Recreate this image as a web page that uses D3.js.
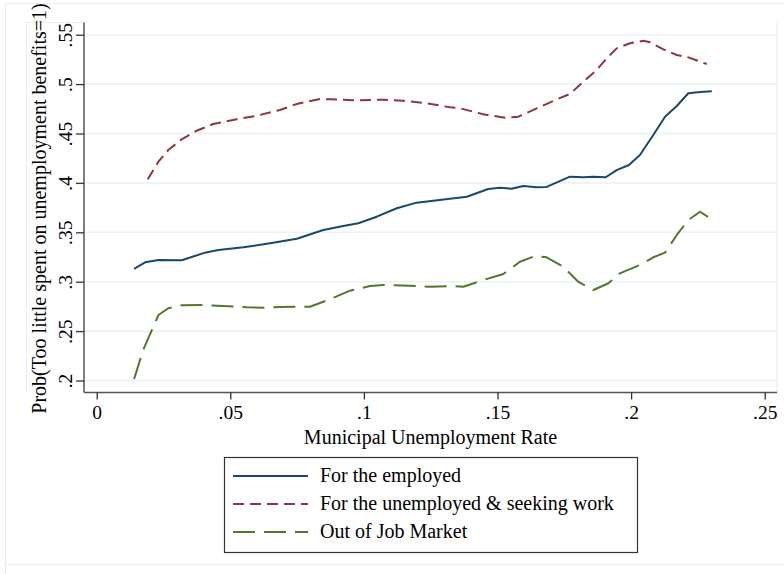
<!DOCTYPE html>
<html>
<head>
<meta charset="utf-8">
<script src="https://cdn.jsdelivr.net/npm/d3@7"></script>
<style>
  html, body { margin: 0; padding: 0; background: #fff; }
  svg { display: block; }
  text { font-family: "Liberation Serif", "Times New Roman", serif; fill: #000; }
</style>
</head>
<body>
<svg id="chart" width="784" height="574"></svg>
<script>
// Predicted probabilities by municipal unemployment rate
const employedX = [0.0140, 0.0181, 0.0231, 0.0318, 0.0405, 0.0455, 0.0549, 0.0649, 0.0749, 0.0848, 0.0923, 0.0979, 0.1048, 0.1123, 0.1197, 0.1322, 0.1385, 0.1465, 0.1509, 0.1553, 0.1596, 0.1646, 0.1684, 0.1771, 0.1821, 0.1858, 0.1905, 0.1946, 0.1992, 0.2033, 0.2083, 0.2127, 0.2171, 0.2214, 0.2258, 0.2302];
const employedY = [0.313, 0.3196, 0.322, 0.3217, 0.3294, 0.332, 0.3348, 0.3389, 0.3435, 0.3523, 0.3564, 0.3591, 0.3658, 0.3743, 0.380, 0.384, 0.386, 0.3938, 0.3951, 0.3941, 0.3969, 0.3956, 0.3959, 0.4063, 0.4057, 0.4063, 0.4057, 0.413, 0.4181, 0.4282, 0.4485, 0.467, 0.4778, 0.4907, 0.492, 0.4927];

const unemployedX = [0.0191, 0.0231, 0.0268, 0.0318, 0.0374, 0.0436, 0.0524, 0.0599, 0.0686, 0.0749, 0.0836, 0.0873, 0.0960, 0.1073, 0.1147, 0.1235, 0.1322, 0.1360, 0.1447, 0.1528, 0.1578, 0.1647, 0.1722, 0.1771, 0.1821, 0.1871, 0.1909, 0.1946, 0.1996, 0.2046, 0.2071, 0.2121, 0.2171, 0.2214, 0.2283];
const unemployedY = [0.4036, 0.4215, 0.4333, 0.4441, 0.4528, 0.4596, 0.4644, 0.468, 0.4738, 0.4799, 0.4849, 0.4846, 0.4836, 0.4842, 0.4832, 0.4806, 0.4765, 0.4755, 0.4694, 0.466, 0.467, 0.4755, 0.4846, 0.49, 0.5024, 0.5143, 0.5261, 0.5362, 0.5413, 0.5439, 0.5423, 0.5352, 0.5295, 0.5271, 0.5203];

const outX = [0.0140, 0.0174, 0.0231, 0.0268, 0.0318, 0.0399, 0.0474, 0.0561, 0.0624, 0.0686, 0.0798, 0.0873, 0.0948, 0.1023, 0.1073, 0.1173, 0.1247, 0.1322, 0.1372, 0.1447, 0.1522, 0.1584, 0.1640, 0.1684, 0.1746, 0.1802, 0.1859, 0.1915, 0.1958, 0.2033, 0.2083, 0.2127, 0.2171, 0.2214, 0.2258, 0.2302];
const outY = [0.2015, 0.2309, 0.2663, 0.2731, 0.2761, 0.2764, 0.2754, 0.2741, 0.2737, 0.2744, 0.2747, 0.2822, 0.2909, 0.2956, 0.2967, 0.296, 0.2949, 0.2956, 0.2949, 0.3017, 0.3078, 0.3202, 0.326, 0.3247, 0.3152, 0.3, 0.2916, 0.2984, 0.3085, 0.3169, 0.3247, 0.3294, 0.3473, 0.3624, 0.3708, 0.3632];

const seriesNames = ["For the employed", "For the unemployed & seeking work", "Out of Job Market"];
const xTicks = [0, 0.05, 0.1, 0.15, 0.2, 0.25];
const xTickLabels = ["0", ".05", ".1", ".15", ".2", ".25"];
const yTicks = [0.2, 0.25, 0.3, 0.35, 0.4, 0.45, 0.5, 0.55];
const yTickLabels = [".2", ".25", ".3", ".35", ".4", ".45", ".5", ".55"];
const xTitle = "Municipal Unemployment Rate";
const yTitle = "Prob(Too little spent on unemployment benefits=1)";

const series = [
  { name: seriesNames[0], xs: employedX, ys: employedY, color: "#1a476f", dash: null },
  { name: seriesNames[1], xs: unemployedX, ys: unemployedY, color: "#90353b", dash: "11,6" },
  { name: seriesNames[2], xs: outX, ys: outY, color: "#55752f", dash: "22,9" }
];

const svg = d3.select("#chart");
const plot = { left: 84, right: 777, top: 22.5, bottom: 392.5 };

// Scales: pixel mapping of the axis ranges
const x = d3.scaleLinear().domain([0, 0.25]).range([96.7, 764.7]);
const y = d3.scaleLinear().domain([0.2, 0.55]).range([380.5, 34.7]);

const faint = "#e6eef1";
const tickFont = "19.5px";
const titleFont = "20px";

// Outer graph region outline
svg.append("path")
  .attr("d", "M5.5,574 V3.5 H784")
  .attr("fill", "none").attr("stroke", faint).attr("stroke-width", 1);
svg.append("line")
  .attr("x1", 5.5).attr("x2", 784).attr("y1", 564.5).attr("y2", 564.5)
  .attr("stroke", faint).attr("stroke-width", 1);

// Inner region outline around the y title
svg.append("path")
  .attr("d", `M${plot.left},${plot.top} H26.5 V${plot.bottom}`)
  .attr("fill", "none").attr("stroke", faint).attr("stroke-width", 1);

// Plot region right edge
svg.append("line")
  .attr("x1", plot.right).attr("x2", plot.right)
  .attr("y1", plot.top).attr("y2", plot.bottom)
  .attr("stroke", faint).attr("stroke-width", 1.2);

// Horizontal gridlines
svg.append("g").selectAll("line").data(yTicks).join("line")
  .attr("x1", plot.left).attr("x2", plot.right)
  .attr("y1", d => y(d)).attr("y2", d => y(d))
  .attr("stroke", "#eaf2f3").attr("stroke-width", 1.6);

// Data lines
const line = d3.line().x(d => x(d[0])).y(d => y(d[1]));
series.forEach(s => {
  const pts = s.xs.map((v, i) => [v, s.ys[i]]);
  svg.append("path")
    .datum(pts)
    .attr("d", line)
    .attr("fill", "none")
    .attr("stroke", s.color)
    .attr("stroke-width", 2)
    .attr("stroke-linejoin", "round")
    .attr("stroke-dasharray", s.dash);
});

// Y axis
const yAxis = d3.axisLeft(y).tickValues(yTicks).tickSize(8).tickFormat((d, i) => yTickLabels[i]);
const gy = svg.append("g").attr("transform", `translate(${plot.left},0)`).call(yAxis);
gy.select(".domain").attr("d", `M0,${plot.top}V${plot.bottom}`).attr("stroke", "#555").attr("stroke-width", 1.5);
gy.selectAll(".tick line").attr("stroke", "#333").attr("stroke-width", 1.3);
gy.selectAll(".tick text")
  .attr("x", 0).attr("dy", 0)
  .attr("transform", "translate(-12.5,0) rotate(-90)")
  .attr("text-anchor", "middle")
  .style("font-size", tickFont)
  .style("font-family", "'Liberation Serif', serif")
  .attr("fill", "#000");

// X axis
const xAxis = d3.axisBottom(x).tickValues(xTicks).tickSize(7).tickFormat((d, i) => xTickLabels[i]);
const gx = svg.append("g").attr("transform", `translate(0,${plot.bottom})`).call(xAxis);
gx.select(".domain").attr("d", `M${plot.left},0H${plot.right}`).attr("stroke", "#555").attr("stroke-width", 1.5);
gx.selectAll(".tick line").attr("stroke", "#333").attr("stroke-width", 1.3);
gx.selectAll(".tick text")
  .attr("y", 0).attr("dy", 0)
  .attr("transform", "translate(0,26)")
  .style("font-size", tickFont)
  .style("font-family", "'Liberation Serif', serif")
  .attr("fill", "#000");

// Axis titles
svg.append("text")
  .attr("x", (plot.left + plot.right) / 2).attr("y", 444)
  .attr("text-anchor", "middle")
  .style("font-size", titleFont)
  .text(xTitle);

svg.append("text")
  .attr("transform", `translate(46,${(plot.top + plot.bottom) / 2 + 1}) rotate(-90)`)
  .attr("text-anchor", "middle")
  .style("font-size", titleFont)
  .text(yTitle);

// Legend
const legend = svg.append("g");
legend.append("rect")
  .attr("x", 224.5).attr("y", 457.5).attr("width", 413).attr("height", 95)
  .attr("fill", "#fff").attr("stroke", "#333").attr("stroke-width", 1.2);
series.forEach((s, i) => {
  const ly = 476 + i * 28;
  legend.append("line")
    .attr("x1", 233).attr("x2", 308).attr("y1", ly).attr("y2", ly)
    .attr("stroke", s.color).attr("stroke-width", 2)
    .attr("stroke-dasharray", s.dash);
  legend.append("text")
    .attr("x", 320).attr("y", ly + 6)
    .style("font-size", titleFont)
    .text(s.name);
});
</script>
</body>
</html>
